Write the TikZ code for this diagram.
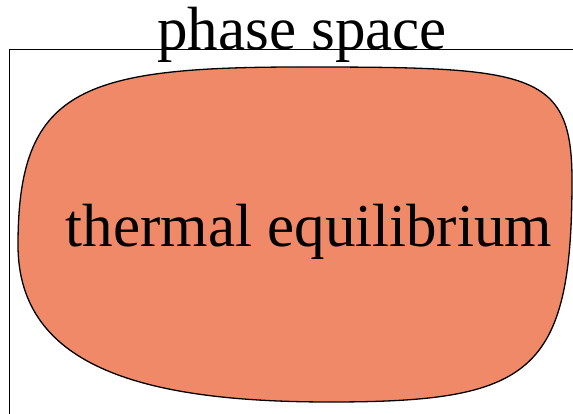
\documentclass[tikz,border=0pt]{standalone}
\usepackage{fontspec}
\setmainfont{Liberation Serif}
\definecolor{salmon}{RGB}{240,137,104}
\begin{document}
\begin{tikzpicture}[x=1pt,y=-1pt,
  frameline/.style={draw=black,line width=1pt},
  blob/.style={draw=black,fill=salmon,line width=1.3pt},
  bigtext/.style={font=\fontsize{61}{61}\selectfont,inner sep=0pt,anchor=base}]
\useasboundingbox (0,0) rectangle (573,414);
\draw[frameline] (9.5,420) -- (9.5,50) -- (580,50);
\path[blob] (18,245) .. controls (18,90) and (80,67) .. (300,67)
  .. controls (530,67) and (572,70) .. (572,180)
  .. controls (572,375) and (530,402) .. (330,402)
  .. controls (150,402) and (18,370) .. (18,245) -- cycle;
\node[bigtext] (title) at (302,50) {phase space};
\node[bigtext] (label) at (309,247) {thermal equilibrium};
\end{tikzpicture}
\end{document}
